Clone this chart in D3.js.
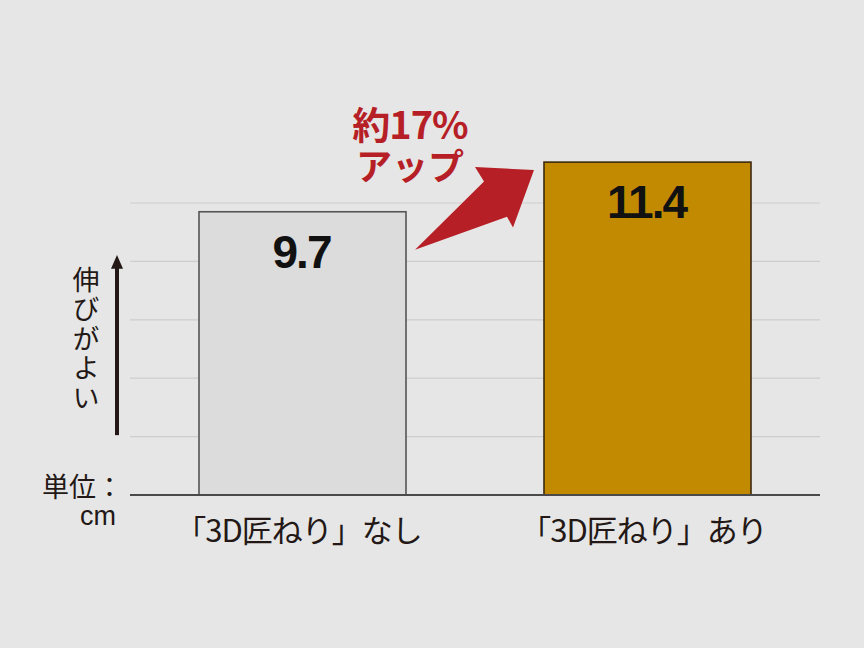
<!DOCTYPE html>
<html>
<head>
<meta charset="utf-8">
<script src="https://cdn.jsdelivr.net/npm/d3@7"></script>
<style>
  html, body { margin: 0; padding: 0; background: #e6e6e6; }
  svg { display: block; }
</style>
</head>
<body>
<div id="wrapper"></div>
<script>
// データ
const categories = ["「3D匠ねり」なし", "「3D匠ねり」あり"];
const values = [9.7, 11.4];
const valueLabels = ["9.7", "11.4"];
const gridTicks = [2, 4, 6, 8, 10];
const barColors = ["#dcdcdc", "#c28a00"];
const barStrokes = ["#555555", "#3c2a10"];

function buildPlot() {
    const dimension = {
        width: 864,
        height: 648,
        margin: { top: 0, left: 130, bottom: 153, right: 44 }
    };
    const baseY = dimension.height - dimension.margin.bottom; // 495

    const svg = d3.select("#wrapper").append("svg")
        .attr("width", dimension.width)
        .attr("height", dimension.height);

    svg.append("rect")
        .attr("width", dimension.width)
        .attr("height", dimension.height)
        .attr("fill", "#e6e6e6");

    const x = d3.scaleBand()
        .domain(categories)
        .range([dimension.margin.left, dimension.width - dimension.margin.right])
        .paddingInner(0.4)
        .paddingOuter(0.2);

    // 1cm ≒ 29.2px
    const y = d3.scaleLinear()
        .domain([0, 10])
        .range([baseY, baseY - 292]);

    // grid lines
    svg.append("g")
        .selectAll("line")
        .data(gridTicks)
        .join("line")
        .attr("x1", x.range()[0])
        .attr("x2", x.range()[1])
        .attr("y1", d => y(d))
        .attr("y2", d => y(d))
        .attr("stroke", "#cdcdcd")
        .attr("stroke-width", 1.2);

    // bars
    svg.append("g")
        .selectAll("rect")
        .data(values)
        .join("rect")
        .attr("x", (d, i) => x(categories[i]))
        .attr("y", d => y(d))
        .attr("width", x.bandwidth())
        .attr("height", d => baseY - y(d))
        .attr("fill", (d, i) => barColors[i])
        .attr("stroke", (d, i) => barStrokes[i])
        .attr("stroke-width", 1.6);

    // baseline + category labels
    const xAxis = d3.axisBottom(x).tickSize(0).tickPadding(0);
    const axisG = svg.append("g")
        .attr("transform", `translate(0,${baseY})`)
        .call(xAxis);
    axisG.select(".domain")
        .attr("d", `M${x.range()[0]},0H${x.range()[1]}`)
        .attr("stroke", "#4a4a4a")
        .attr("stroke-width", 2);
    axisG.selectAll(".tick text")
        .attr("x", -4)
        .attr("y", 47)
        .attr("dy", 0)
        .attr("fill", "#231815")
        .style("font-family", "'Noto Sans CJK JP', sans-serif")
        .style("font-size", "31px")
        .style("letter-spacing", "-1px");

    // value labels
    svg.append("g")
        .selectAll("text")
        .data(values)
        .join("text")
        .attr("x", (d, i) => x(categories[i]) + x.bandwidth() / 2 - 1)
        .attr("y", d => y(d) + 56)
        .attr("text-anchor", "middle")
        .attr("fill", "#111")
        .style("font-family", "'Liberation Sans', Arial, sans-serif")
        .style("font-weight", "bold")
        .style("font-size", "46px")
        .style("letter-spacing", "-2px")
        .text((d, i) => valueLabels[i]);

    // y direction arrow
    const ay = svg.append("g");
    ay.append("line")
        .attr("x1", 117).attr("x2", 117)
        .attr("y1", y(2.05)).attr("y2", y(7.8))
        .attr("stroke", "#231815")
        .attr("stroke-width", 4);
    ay.append("path")
        .attr("d", `M117,${y(8.22)}L111,${y(7.75)}L123,${y(7.75)}Z`)
        .attr("fill", "#231815");

    ay.append("text")
        .attr("x", 86)
        .attr("y", 266)
        .attr("fill", "#231815")
        .style("writing-mode", "vertical-rl")
        .style("text-orientation", "upright")
        .style("font-family", "'Noto Sans CJK JP', sans-serif")
        .style("font-size", "27px")
        .style("letter-spacing", "2.5px")
        .text("伸びがよい");

    // 単位
    const unit = svg.append("text")
        .attr("fill", "#231815")
        .style("font-size", "27px");
    unit.append("tspan")
        .attr("x", 42).attr("y", 497)
        .style("font-family", "'Noto Sans CJK JP', sans-serif")
        .text("単位：");
    unit.append("tspan")
        .attr("x", 116).attr("y", 525)
        .attr("text-anchor", "end")
        .style("font-family", "'Liberation Sans', Arial, sans-serif")
        .text("cm");

    // red arrow (increase)
    const red = "#b71f26";
    const x0 = x(categories[0]) + x.bandwidth();
    const x1 = x(categories[1]);
    const pts = [
        [x0 + 9, y(8.4)],
        [x0 + 78, y(10.74)],
        [x0 + 69, y(11.23)],
        [x1 - 10, y(11.13)],
        [x1 - 31, y(9.16)],
        [x0 + 101, y(9.53)]
    ];
    svg.append("path")
        .attr("d", d3.line()(pts) + "Z")
        .attr("fill", red);

    const note = svg.append("text")
        .attr("text-anchor", "middle")
        .attr("fill", red)
        .style("font-family", "'Noto Sans CJK JP', sans-serif")
        .style("font-weight", "bold");
    note.append("tspan")
        .attr("x", 410).attr("y", 139)
        .style("font-size", "38px")
        .style("letter-spacing", "-1px")
        .text("約17%");
    note.append("tspan")
        .attr("x", 410).attr("y", 180)
        .style("font-size", "36px")
        .text("アップ");
}

buildPlot();
</script>
</body>
</html>
